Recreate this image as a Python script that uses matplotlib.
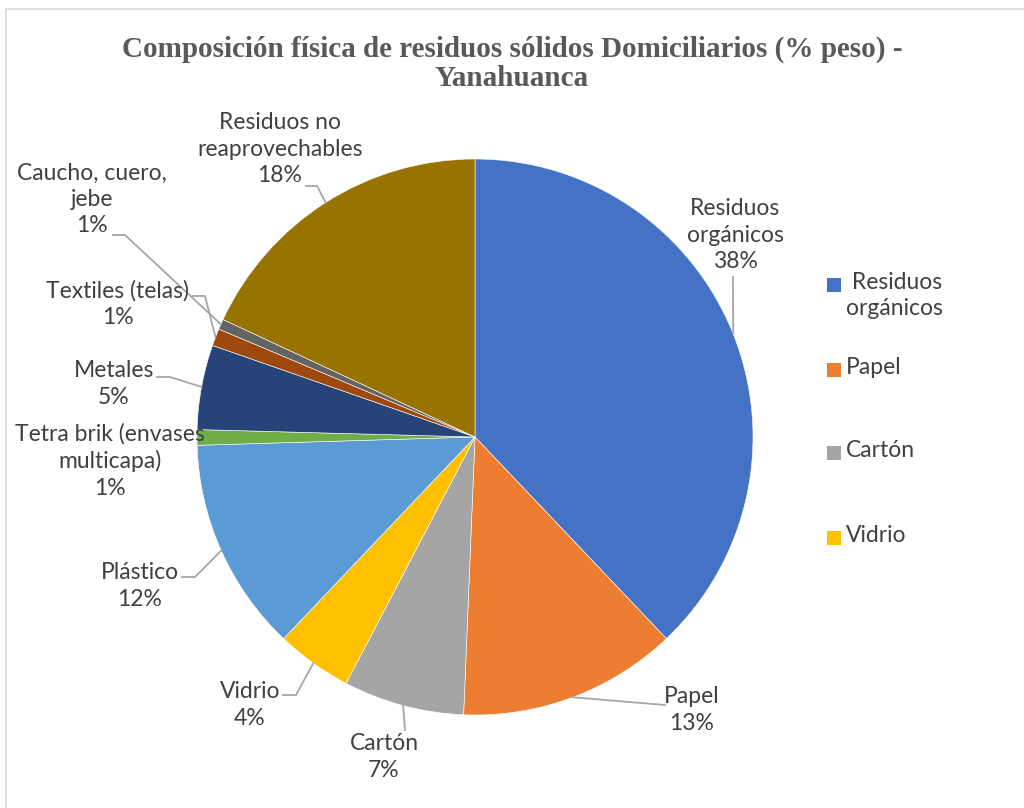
import matplotlib
matplotlib.use("Agg")
import matplotlib.pyplot as plt
import numpy as np
from matplotlib.patches import Rectangle

categories = ["Residuos orgánicos", "Papel", "Cartón", "Vidrio", "Plástico",
              "Tetra brik (envases multicapa)", "Metales", "Textiles (telas)",
              "Caucho, cuero, jebe", "Residuos no reaprovechables"]
values = [37.8, 12.7, 7.0, 4.4, 12.4, 0.9, 4.9, 1.0, 0.6, 18.0]
label_texts = ["Residuos\norgánicos", "Papel", "Cartón", "Vidrio", "Plástico",
               "Tetra brik (envases\nmulticapa)", "Metales", "Textiles (telas)",
               "Caucho, cuero,\njebe", "Residuos no\nreaprovechables"]
colors = ["#4472C4", "#ED7D31", "#A5A5A5", "#FFC000", "#5B9BD5",
          "#70AD47", "#264478", "#9E480E", "#636363", "#997300"]
legend_items = categories[:4]
title = "Composición física de residuos sólidos Domiciliarios (% peso) -\nYanahuanca"

W, H = 1024, 808
fig = plt.figure(figsize=(W / 100, H / 100), dpi=100)
fig.patch.set_facecolor("white")

# frame
fig.patches.append(Rectangle((6 / W, -0.1), 1.2, 1 - 9 / H + 0.1, transform=fig.transFigure,
                             fill=False, edgecolor="#d9d9d9", linewidth=1.2))

cx, cy, R = 475, 437, 278
ax = fig.add_axes([(cx - R) / W, (H - cy - R) / H, 2 * R / W, 2 * R / H])

wedges, _ = ax.pie(values, colors=colors, startangle=90, counterclock=False, radius=1,
                   wedgeprops=dict(edgecolor="white", linewidth=0.4))
ax.set_xlim(-1, 1)
ax.set_ylim(-1, 1)
ax.set_aspect("equal")
ax.axis("off")

def px(x, y):
    return ((x - cx) / R, (cy - y) / R)

# layout for labels: text center (px), elbow (px), tail end (px)
layout = [
    ((735, 235), None, (733, 277)),
    ((692, 710), None, (665, 705)),
    ((384, 757), None, (405, 730)),
    ((250, 705), (296, 695), (283, 695)),
    ((140, 586), (195, 577), (182, 577)),
    ((110, 461), None, None),
    ((114, 384), (170, 377), (157, 377)),
    ((118, 304), (205, 296), (193, 296)),
    ((92, 199), (125, 235), (113, 235)),
    ((280, 149), (317, 186), (306, 186)),
]

font = "Lato"
txtcol = "#404040"
fs = 16.5
ls = 1.3
total = sum(values)
for w, txt, v, (lpos, elbow, tail) in zip(wedges, label_texts, values, layout):
    ang = np.deg2rad((w.theta1 + w.theta2) / 2)
    anchor = (np.cos(ang), np.sin(ang))
    if tail is not None:
        pts = [anchor]
        if elbow is not None:
            pts.append(px(*elbow))
        pts.append(px(*tail))
        xs, ys = zip(*pts)
        ax.plot(xs, ys, color="#a6a6a6", lw=1.3, clip_on=False, zorder=3)
    lx, ly = px(*lpos)
    ax.text(lx, ly, f"{txt}\n{round(v / total * 100):.0f}%", ha="center", va="center",
            fontsize=fs, family=font, color=txtcol, linespacing=ls, zorder=4)

fig.text(0.5, 1 - 64 / H, title, ha="center", va="center", fontsize=21,
         family="Liberation Serif", fontweight="bold", color="#595959", linespacing=1.1)

# legend
leg_y = [285, 370, 453, 538]
leg_lbl = [" Residuos\norgánicos", "Papel", "Cartón", "Vidrio"]
for name, lbl, y in zip(legend_items, leg_lbl, leg_y):
    col = colors[categories.index(name)]
    fig.patches.append(Rectangle((827 / W, 1 - (y + 7) / H), 14 / W, 14 / H,
                                 transform=fig.transFigure, facecolor=col, edgecolor="none"))
    fig.text(846 / W, 1 - (y - 13) / H, lbl, ha="left", va="top", fontsize=fs,
             family=font, color=txtcol, linespacing=ls)

fig.savefig("out.png", dpi=100)
